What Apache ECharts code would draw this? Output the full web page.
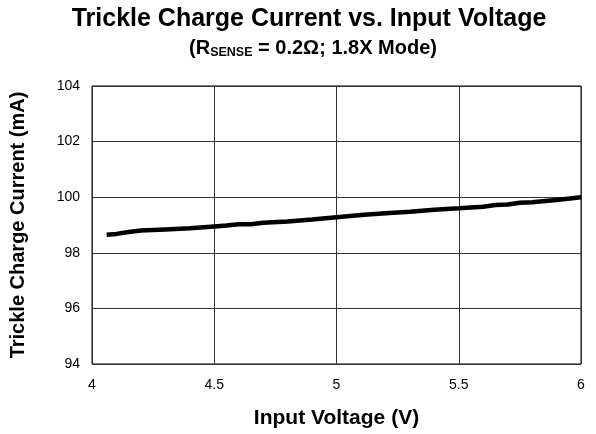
<!DOCTYPE html>
<html><head><meta charset="utf-8">
<script src="https://cdn.jsdelivr.net/npm/echarts@6/dist/echarts.min.js"></script>
<style>html,body{margin:0;padding:0;background:#fff}#c{width:596px;height:434px}</style>
</head><body><div id="c"></div>
<script>
const voltage = [4.06,4.1,4.15,4.2,4.3,4.4,4.5,4.55,4.6,4.65,4.7,4.8,4.9,5.0,5.1,5.2,5.3,5.4,5.5,5.6,5.65,5.7,5.75,5.8,5.9,6.0];
const current = [98.65,98.68,98.75,98.8,98.84,98.88,98.95,98.98,99.03,99.03,99.08,99.13,99.2,99.28,99.36,99.42,99.48,99.55,99.6,99.66,99.72,99.74,99.8,99.82,99.9,100.0];
const xTicks = [4,4.5,5,5.5,6];
const yTicks = [94,96,98,100,102,104];

const chart = echarts.init(document.getElementById('c'));
const F = 'Liberation Sans, Arial, sans-serif';
chart.setOption({
  animation:false,
  title:[
    {text:'Trickle Charge Current vs. Input Voltage', left:304, top:2, textAlign:'center',
     textStyle:{fontFamily:F,fontSize:25,fontWeight:'bold',color:'#000'}},
    {text:'{m|(R}{s|SENSE}{m| = 0.2Ω; 1.8X Mode)}', left:308, top:32, textAlign:'center',
     textStyle:{fontFamily:F,fontSize:20,fontWeight:'bold',color:'#000',
       rich:{
         m:{fontFamily:F,fontSize:20,fontWeight:'bold',color:'#000',lineHeight:22},
         s:{fontFamily:F,fontSize:12.5,fontWeight:'bold',color:'#000',lineHeight:12,verticalAlign:'bottom'}
       }}}
  ],
  grid:{left:88,right:15,top:86,bottom:70,show:true,borderColor:'#000',borderWidth:1,backgroundColor:'transparent'},
  xAxis:{type:'value',min:4,max:6,interval:0.5,
    name:'Input Voltage (V)',nameLocation:'middle',nameGap:44,
    nameTextStyle:{fontFamily:F,fontSize:21,fontWeight:'bold',color:'#000'},
    axisLine:{show:false},axisTick:{show:false},
    axisLabel:{fontFamily:F,fontSize:14,color:'#000',margin:14,formatter:v=>xTicks.includes(v)?String(v):''},
    splitLine:{show:true,lineStyle:{color:'#333',width:1}}},
  yAxis:{type:'value',min:94,max:104,interval:2,
    name:'Trickle Charge Current (mA)',nameLocation:'middle',nameGap:64,
    nameTextStyle:{fontFamily:F,fontSize:20,fontWeight:'bold',color:'#000'},
    axisLine:{show:false},axisTick:{show:false},
    axisLabel:{fontFamily:F,fontSize:14,color:'#000',margin:12,formatter:v=>yTicks.includes(v)?String(v):''},
    splitLine:{show:true,lineStyle:{color:'#333',width:1}}},
  series:[{type:'line',data:voltage.map((v,i)=>[v,current[i]]),showSymbol:false,smooth:false,
    lineStyle:{color:'#000',width:4.5}}]
});
</script></body></html>
